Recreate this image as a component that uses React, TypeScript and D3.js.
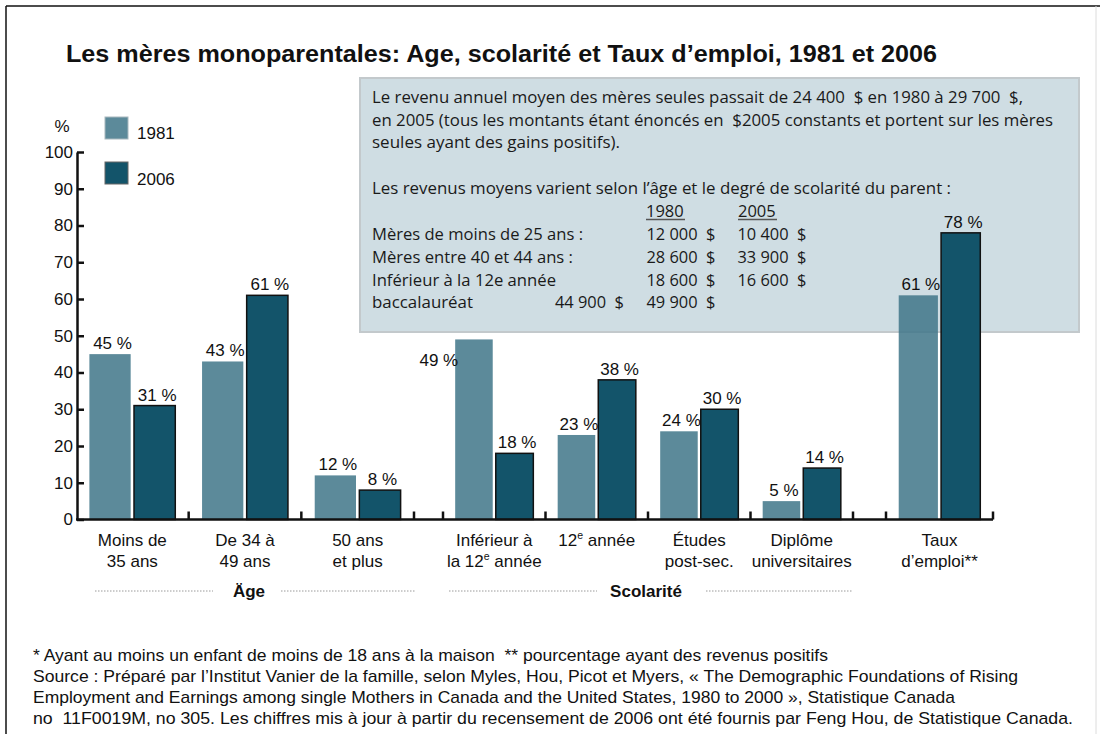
import React, { useRef, useEffect } from 'react';
import * as d3 from 'd3';

// données
const sectionNames = ['Äge', 'Scolarité', ''];
const categories = [
  'Moins de|35 ans',
  'De 34 à|49 ans',
  '50 ans|et plus',
  'Inférieur à|la 12^e année',
  '12^e année',
  'Études|post-sec.',
  'Diplôme|universitaires',
  'Taux|d’emploi**',
];
const categorySection = [0, 0, 0, 1, 1, 1, 1, 2];
const series = ['1981', '2006'];
const values1981 = [45, 43, 12, 49, 23, 24, 5, 61];
const values2006 = [31, 61, 8, 18, 38, 30, 14, 78];
const yTicks = [0, 10, 20, 30, 40, 50, 60, 70, 80, 90, 100];

const boxLines = [
  'Le revenu annuel moyen des mères seules passait de 24 400  $ en 1980 à 29 700  $,',
  'en 2005 (tous les montants étant énoncés en  $2005 constants et portent sur les mères',
  'seules ayant des gains positifs).',
  '',
  'Les revenus moyens varient selon l’âge et le degré de scolarité du parent :',
];
const tableYears = ['1980', '2005'];
const tableRows = [
  'Mères de moins de 25 ans :',
  'Mères entre 40 et 44 ans :',
  'Inférieur à la 12e année',
  'baccalauréat',
];
const table1980 = ['12 000  $', '28 600  $', '18 600  $', '44 900  $'];
const table2005 = ['10 400  $', '33 900  $', '16 600  $', '49 900  $'];

const footnotes = [
  '* Ayant au moins un enfant de moins de 18 ans à la maison  ** pourcentage ayant des revenus positifs',
  'Source : Préparé par l’Institut Vanier de la famille, selon Myles, Hou, Picot et Myers, « The Demographic Foundations of Rising',
  'Employment and Earnings among single Mothers in Canada and the United States, 1980 to 2000 », Statistique Canada',
  'no  11F0019M, no 305. Les chiffres mis à jour à partir du recensement de 2006 ont été fournis par Feng Hou, de Statistique Canada.',
];

const colors: Record<string, string> = { '1981': '#3f7588', '2006': '#13546a' };

// largeurs mesurées sur l'image de référence
const boxLineWidths = [651, 681, 248, 0, 579];
const rowWidths = [211, 201, 184, 101];
const footWidths = [795, 985, 922, 1040];

const Label = ({ text, x, y, size }: { text: string; x: number; y: number; size: number }) => {
  const parts = text.split('^e');
  if (parts.length === 1) return <text x={x} y={y} textAnchor="middle">{text}</text>;
  return (
    <text x={x} y={y} textAnchor="middle">
      {parts[0]}
      <tspan fontSize={size * 0.62} dy={-7}>e</tspan>
      <tspan dy={7}>{parts[1]}</tspan>
    </text>
  );
};

const App = () => {
  const W = 1100;
  const H = 734;
  const font = '"Liberation Sans", Arial, Helvetica, sans-serif';
  const boxFont = '"Open Sans", "DejaVu Sans", sans-serif';

  const y = d3.scaleLinear().domain([0, 100]).range([519.5, 152]);
  const sectionExtents: [number, number][] = [[76, 414], [443, 853], [886, 993]];

  const sectionScales = sectionExtents.map((ext, si) =>
    d3
      .scaleBand()
      .domain(categories.filter((_, i) => categorySection[i] === si))
      .range(ext)
      .padding(0)
  );

  const yAxisRef = useRef<SVGGElement>(null);
  useEffect(() => {
    const g = d3.select(yAxisRef.current);
    g.call(d3.axisLeft(y).tickValues(yTicks).tickSize(-7).tickSizeOuter(0).tickPadding(4));
    g.attr('font-family', font).attr('font-size', 17);
    g.select('.domain').attr('stroke', '#111').attr('stroke-width', 2.5);
    g.selectAll('.tick line').attr('stroke', '#111').attr('stroke-width', 2.5);
    g.selectAll('.tick text').attr('fill', '#111');
  }, []);

  const bars: JSX.Element[] = [];
  const valueLabels: JSX.Element[] = [];
  const catLabels: JSX.Element[] = [];
  const ticks: number[] = [];

  sectionScales.forEach((x0, si) => {
    if (si > 0) ticks.push(sectionExtents[si][0]);
    const x1 = d3.scaleBand().domain(series).range([0, x0.bandwidth()]).paddingInner(0.075).paddingOuter(0.3);
    x0.domain().forEach((cat) => {
      const ci = categories.indexOf(cat);
      const gx = x0(cat) as number;
      ticks.push(gx + x0.step());
      series.forEach((s) => {
        const v = s === '1981' ? values1981[ci] : values2006[ci];
        const bx = gx + (x1(s) as number);
        bars.push(
          <rect
            key={`${ci}-${s}`}
            x={bx}
            y={y(v)}
            width={x1.bandwidth()}
            height={y(0) - y(v)}
            fill={colors[s]}
            fillOpacity={s === '1981' ? 0.85 : 1}
            stroke={s === '2006' ? '#111' : 'none'}
            strokeWidth={1.5}
          />
        );
        const beside = ci === 3 && s === '1981';
        valueLabels.push(
          <text
            key={`l-${ci}-${s}`}
            x={beside ? bx + 3 : bx + x1.bandwidth() / 2 + 2.5}
            y={beside ? y(v) + 27 : y(v) - 5}
            textAnchor={beside ? 'end' : 'middle'}
          >
            {`${v} %`}
          </text>
        );
      });
      const cx = gx + x0.bandwidth() / 2;
      cat.split('|').forEach((line, li) => {
        catLabels.push(<Label key={`c-${ci}-${li}`} text={line} x={cx} y={546 + li * 21} size={17} />);
      });
    });
  });

  return (
    <svg width={W} height={H} style={{ position: 'absolute', left: 0, top: 0, background: '#fff' }} fontFamily={font}>
      {/* cadre */}
      <line x1={6} y1={6} x2={W} y2={6} stroke="#111" strokeWidth={1.5} />
      <line x1={6} y1={6} x2={6} y2={H} stroke="#111" strokeWidth={1.5} />
      <line x1={1096} y1={6} x2={1096} y2={H} stroke="#dcdcdc" strokeWidth={1} />

      <text x={66} y={62} fontSize={23} fontWeight="bold" fill="#111" textLength={871} lengthAdjust="spacingAndGlyphs">
        Les mères monoparentales: Age, scolarité et Taux d’emploi, 1981 et 2006
      </text>

      {/* encadré */}
      <rect x={360} y={78} width={719} height={254} fill="#cfdde3" stroke="#c3c9cc" strokeWidth={2} />
      <g fontFamily={boxFont} fontSize={16.5} fill="#1a1a1a">
        {boxLines.map((l, i) =>
          l ? (
            <text key={i} x={372} y={103 + i * 22.7} xmlSpace="preserve" textLength={boxLineWidths[i]} lengthAdjust="spacingAndGlyphs">
              {l}
            </text>
          ) : null
        )}
        {tableYears.map((yr, i) => (
          <g key={yr}>
            <text x={646 + i * 92} y={216.5}>{yr}</text>
            <line x1={646 + i * 92} x2={685 + i * 92} y1={219.5} y2={219.5} stroke="#555" strokeWidth={1.5} />
          </g>
        ))}
        {tableRows.map((r, i) => (
          <g key={r}>
            <text x={372} y={240 + i * 22.8} textLength={rowWidths[i]} lengthAdjust="spacingAndGlyphs">{r}</text>
            <text x={i === 3 ? 555 : 646.5} y={240 + i * 22.8} xmlSpace="preserve" textLength={69} lengthAdjust="spacingAndGlyphs">{table1980[i]}</text>
            <text x={i === 3 ? 646.5 : 737.5} y={240 + i * 22.8} xmlSpace="preserve" textLength={69} lengthAdjust="spacingAndGlyphs">{table2005[i]}</text>
          </g>
        ))}
      </g>

      {/* légende */}
      <text x={62} y={132} fontSize={17} textAnchor="middle" fill="#111">%</text>
      {series.map((s, i) => (
        <g key={s}>
          <rect x={105} y={117 + i * 45} width={23} height={22} fill={colors[s]} fillOpacity={s === '1981' ? 0.85 : 1} stroke={s === '1981' ? '#a8b8be' : '#666'} strokeWidth={1} />
          <text x={137} y={139 + i * 46} fontSize={17} fill="#111">{s}</text>
        </g>
      ))}

      {bars}
      <g fontSize={17} fill="#111">{valueLabels}</g>

      <g ref={yAxisRef} transform="translate(77,0)" />
      <line x1={76} x2={993} y1={y(0)} y2={y(0)} stroke="#111" strokeWidth={2.5} />
      {ticks.map((t, i) => (
        <line key={i} x1={t} x2={t} y1={y(0)} y2={y(0) - 8} stroke="#111" strokeWidth={2.5} />
      ))}

      <g fontSize={17} fill="#111">{catLabels}</g>

      {/* sections */}
      <g stroke="#9a9a9a" strokeWidth={1} strokeDasharray="1.5,1.5">
        <line x1={95} x2={213} y1={591} y2={591} />
        <line x1={281} x2={415} y1={591} y2={591} />
        <line x1={449} x2={597} y1={591} y2={591} />
        <line x1={706} x2={853} y1={591} y2={591} />
      </g>
      <text x={249} y={597} fontSize={17} fontWeight="bold" textAnchor="middle" fill="#111">{sectionNames[0]}</text>
      <text x={646} y={597} fontSize={17} fontWeight="bold" textAnchor="middle" fill="#111">{sectionNames[1]}</text>

      <g fontSize={17} fill="#111">
        {footnotes.map((f, i) => (
          <text key={i} x={33} y={661 + i * 21} xmlSpace="preserve" textLength={footWidths[i]} lengthAdjust="spacingAndGlyphs">
            {f}
          </text>
        ))}
      </g>
    </svg>
  );
};

export default App;
